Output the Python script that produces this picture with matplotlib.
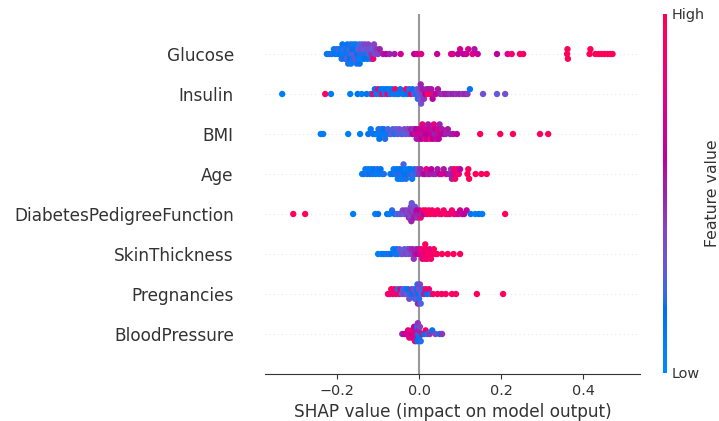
import numpy as np
import matplotlib
matplotlib.use("Agg")
import matplotlib.pyplot as plt
from matplotlib.colors import LinearSegmentedColormap

# ---------------- data: (SHAP value, normalised feature value) ----------------
features = ["Glucose", "Insulin", "BMI", "Age", "DiabetesPedigreeFunction",
            "SkinThickness", "Pregnancies", "BloodPressure"]

glucose = [
    (-0.225,0.15),(-0.219,0.1),(-0.213,0.2),(-0.208,0.1),(-0.204,0.15),(-0.201,0.2),(-0.198,0.1),(-0.196,0.25),
    (-0.193,0.15),(-0.191,0.1),(-0.189,0.2),(-0.187,0.15),(-0.185,0.1),(-0.183,0.25),(-0.181,0.15),(-0.179,0.2),
    (-0.178,0.1),(-0.176,0.3),(-0.175,0.15),(-0.173,0.2),(-0.172,0.1),(-0.17,0.25),(-0.169,0.15),(-0.167,0.2),
    (-0.166,0.1),(-0.164,0.3),(-0.163,0.15),(-0.161,0.2),(-0.16,0.1),(-0.158,0.25),(-0.157,0.15),(-0.155,0.35),
    (-0.154,0.1),(-0.152,0.2),(-0.151,0.15),(-0.149,0.3),(-0.148,0.1),(-0.146,0.25),(-0.145,0.15),(-0.143,0.2),
    (-0.142,0.35),(-0.14,0.1),(-0.139,0.25),(-0.137,0.2),(-0.136,0.3),(-0.134,0.15),(-0.132,0.4),(-0.13,0.2),
    (-0.128,0.3),(-0.126,0.15),(-0.124,0.4),(-0.122,0.25),(-0.12,0.35),(-0.118,0.2),(-0.116,0.45),(-0.114,0.3),
    (-0.112,0.85),(-0.11,0.4),(-0.107,0.35),(-0.104,0.45),(-0.1,0.4),(-0.096,0.5),
    (-0.088,0.55),(-0.08,0.6),(-0.072,0.5),(-0.06,0.55),(-0.045,0.7),(-0.012,0.6),(-0.005,0.7),(0.005,0.75),
    (0.044,0.65),(0.078,0.8),(0.082,0.7),(0.095,0.6),(0.1,0.7),(0.108,0.6),(0.115,0.65),(0.12,0.7),
    (0.13,0.75),(0.135,0.55),(0.143,0.65),(0.19,0.6),(0.216,0.75),(0.226,0.85),(0.246,0.9),(0.254,0.9),
    (0.361,0.97),(0.362,0.97),(0.363,0.97),(0.416,0.97),(0.418,0.97),(0.43,0.97),(0.438,0.97),(0.445,0.97),
    (0.452,0.97),(0.46,0.97),(0.466,0.97),(0.472,0.97)]

insulin = [
    (-0.334,0.1),(-0.229,0.95),(-0.215,0.1),(-0.168,0.1),(-0.15,0.15),(-0.14,0.1),(-0.128,0.15),(-0.118,0.2),
    (-0.112,0.9),(-0.108,0.15),(-0.104,0.1),(-0.1,0.85),(-0.096,0.2),(-0.093,0.15),(-0.09,0.9),(-0.087,0.1),
    (-0.084,0.2),(-0.08,0.15),(-0.077,0.85),(-0.074,0.1),(-0.07,0.2),(-0.066,0.15),(-0.062,0.1),(-0.058,0.95),
    (-0.055,0.2),(-0.05,0.1),(-0.046,0.15),(-0.04,0.2),(-0.036,0.1),(-0.032,0.9),(-0.028,0.15),(-0.024,0.2),
    (-0.02,0.85),(-0.016,0.15),(-0.012,0.25),(-0.008,0.2),(-0.005,0.3),(-0.003,0.2),(0.0,0.25),(0.001,0.4),
    (0.002,0.3),(0.004,0.5),(0.005,0.35),(0.006,0.4),(0.009,0.55),(0.012,0.45),(0.015,0.6),(0.018,0.5),
    (0.021,0.9),(0.024,0.55),(0.027,0.95),(0.03,0.55),(0.033,0.6),(0.037,0.5),(0.041,0.65),(0.046,0.55),
    (0.052,0.5),(0.058,0.45),(0.064,0.55),(0.07,0.5),(0.076,0.45),(0.083,0.5),(0.09,0.45),(0.098,0.5),
    (0.106,0.45),(0.113,0.5),(0.118,0.45),(0.124,0.15),(0.156,0.35),(0.19,0.3),(0.21,0.35)]

bmi = [
    (-0.24,0.1),(-0.234,0.1),(-0.173,0.1),(-0.144,0.1),(-0.124,0.15),(-0.118,0.1),(-0.112,0.2),(-0.107,0.15),
    (-0.102,0.1),(-0.099,0.2),(-0.097,0.15),(-0.095,0.1),(-0.092,0.2),(-0.089,0.1),(-0.086,0.15),(-0.083,0.2),
    (-0.08,0.1),(-0.076,0.25),(-0.072,0.2),(-0.068,0.3),(-0.064,0.25),(-0.06,0.2),(-0.056,0.3),(-0.052,0.25),
    (-0.048,0.35),(-0.044,0.3),(-0.04,0.25),(-0.036,0.35),(-0.032,0.3),(-0.028,0.4),(-0.024,0.35),(-0.02,0.5),
    (-0.016,0.6),(-0.013,0.45),(-0.01,0.55),(-0.008,0.6),(-0.006,0.5),(-0.004,0.7),(-0.002,0.6),(0.0,0.55),
    (0.002,0.7),(0.004,0.65),(0.006,0.6),(0.008,0.8),(0.01,0.55),(0.012,0.65),(0.014,0.75),(0.016,0.6),
    (0.018,0.7),(0.02,0.65),(0.022,0.55),(0.024,0.6),(0.026,0.7),(0.028,0.85),(0.03,0.65),(0.032,0.55),
    (0.034,0.6),(0.036,0.8),(0.038,0.5),(0.04,0.6),(0.042,0.7),(0.044,0.55),(0.046,0.75),(0.048,0.6),
    (0.05,0.5),(0.053,0.65),(0.056,0.55),(0.06,0.6),(0.065,0.5),(0.07,0.55),(0.076,0.5),(0.083,0.55),
    (0.092,0.6),(0.149,0.95),(0.198,0.95),(0.229,0.95),(0.295,0.95),(0.315,0.95)]

age = [
    (-0.139,0.1),(-0.135,0.15),(-0.131,0.1),(-0.127,0.2),(-0.124,0.1),(-0.12,0.15),(-0.117,0.1),(-0.113,0.2),
    (-0.11,0.15),(-0.106,0.1),(-0.102,0.2),(-0.098,0.1),(-0.094,0.15),(-0.09,0.1),(-0.086,0.2),
    (-0.07,0.1),(-0.065,0.15),(-0.062,0.1),(-0.058,0.2),(-0.055,0.15),(-0.052,0.1),(-0.05,0.2),(-0.048,0.15),
    (-0.046,0.1),(-0.044,0.2),(-0.042,0.15),(-0.04,0.1),(-0.038,0.25),(-0.036,0.15),(-0.034,0.1),(-0.032,0.2),
    (-0.029,0.15),(-0.026,0.1),(-0.023,0.2),(-0.02,0.15),(-0.017,0.1),(-0.014,0.25),(-0.011,0.15),(-0.008,0.2),
    (-0.004,0.4),(0.0,0.45),(0.004,0.5),(0.01,0.55),(0.014,0.6),(0.018,0.8),(0.022,0.5),(0.026,0.55),
    (0.03,0.6),(0.035,0.55),(0.04,0.5),(0.045,0.55),(0.05,0.6),(0.055,0.7),(0.06,0.55),(0.066,0.65),
    (0.072,0.55),(0.076,0.5),(0.078,0.45),(0.08,0.5),(0.082,0.55),(0.085,0.85),(0.088,0.9),(0.09,0.85),
    (0.093,0.9),(0.097,0.85),(0.1,0.6),(0.118,0.95),(0.12,0.95),(0.122,0.95),(0.138,0.95),(0.152,0.95),
    (0.165,0.95)]

dpf = [
    (-0.307,0.95),(-0.278,0.95),(-0.161,0.1),(-0.107,0.1),(-0.1,0.15),(-0.078,0.15),(-0.072,0.1),(-0.066,0.2),
    (-0.06,0.15),(-0.054,0.3),(-0.048,0.2),(-0.044,0.35),(-0.04,0.4),(-0.036,0.3),(-0.033,0.45),(-0.03,0.4),
    (-0.027,0.35),(-0.025,0.5),(-0.023,0.4),(-0.022,0.45),(-0.021,0.35),(-0.02,0.4),(-0.019,0.5),(-0.018,0.3),
    (-0.016,0.45),(-0.014,0.4),(-0.012,0.55),(-0.01,0.35),(-0.008,0.5),(-0.006,0.6),(-0.004,0.45),(-0.002,0.5),
    (0.001,0.6),(0.004,0.85),(0.007,0.5),(0.01,0.9),(0.013,0.6),(0.016,0.95),(0.02,0.9),(0.024,0.85),
    (0.028,0.95),(0.032,0.9),(0.036,0.95),(0.04,0.85),(0.045,0.9),(0.05,0.95),(0.055,0.85),(0.06,0.9),
    (0.065,0.95),(0.07,0.9),(0.075,0.85),(0.08,0.9),(0.085,0.8),(0.09,0.85),(0.096,0.7),(0.1,0.65),
    (0.105,0.7),(0.11,0.6),(0.116,0.65),(0.126,0.15),(0.137,0.1),(0.146,0.15),(0.154,0.1),(0.21,0.95)]

skin = [
    (-0.1,0.1),(-0.092,0.1),(-0.086,0.15),(-0.08,0.1),(-0.074,0.2),(-0.068,0.15),(-0.063,0.1),(-0.058,0.2),
    (-0.055,0.15),(-0.052,0.1),(-0.048,0.3),(-0.044,0.25),(-0.04,0.35),(-0.036,0.3),(-0.032,0.4),(-0.028,0.35),
    (-0.025,0.3),(-0.022,0.45),(-0.019,0.4),(-0.016,0.5),(-0.013,0.45),(-0.01,0.55),(-0.007,0.5),(-0.004,0.6),
    (-0.001,0.55),(0.002,0.7),(0.005,0.8),(0.008,0.75),(0.011,0.85),(0.013,0.9),(0.014,0.85),(0.015,0.95),
    (0.016,0.8),(0.017,0.9),(0.02,0.85),(0.023,0.95),(0.026,0.8),(0.029,0.9),(0.032,0.85),(0.036,0.95),
    (0.04,0.85),(0.044,0.95),(0.056,0.95),(0.07,0.95),(0.084,0.95),(0.1,0.95)]

pregnancies = [
    (-0.076,0.9),(-0.072,0.85),(-0.068,0.95),(-0.064,0.8),(-0.06,0.9),(-0.056,0.85),(-0.052,0.2),(-0.048,0.9),
    (-0.045,0.75),(-0.042,0.3),(-0.039,0.25),(-0.036,0.4),(-0.033,0.2),(-0.03,0.3),(-0.027,0.15),(-0.024,0.35),
    (-0.021,0.2),(-0.018,0.45),(-0.015,0.15),(-0.012,0.3),(-0.01,0.2),(-0.008,0.4),(-0.006,0.15),(-0.005,0.3),
    (-0.004,0.2),(-0.003,0.5),(-0.002,0.15),(-0.001,0.35),(0.0,0.2),(0.002,0.4),(0.004,0.25),(0.006,0.3),
    (0.009,0.2),(0.012,0.5),(0.016,0.9),(0.02,0.15),(0.024,0.85),(0.028,0.2),(0.034,0.9),(0.045,0.9),
    (0.055,0.95),(0.065,0.9),(0.08,0.95),(0.09,0.9),(0.141,0.95),(0.205,0.95)]

blood_pressure = [
    (-0.041,0.5),(-0.035,0.6),(-0.03,0.7),(-0.027,0.75),(-0.024,0.8),(-0.021,0.7),(-0.018,0.9),(-0.017,0.75),
    (-0.016,0.65),(-0.015,0.85),(-0.014,0.7),(-0.012,0.6),(-0.01,0.9),(-0.009,0.8),(-0.008,0.55),(-0.006,0.5),
    (-0.005,0.2),(-0.004,0.15),(-0.003,0.45),(-0.002,0.2),(-0.001,0.5),(0.0,0.15),(0.002,0.4),(0.004,0.2),
    (0.008,0.95),(0.012,0.15),(0.016,0.85),(0.02,0.2),(0.026,0.45),(0.032,0.15),(0.04,0.4),(0.05,0.15),
    (0.056,0.45)]

feature_data = [glucose, insulin, bmi, age, dpf, skin, pregnancies, blood_pressure]

# ---------------- SHAP red_blue colormap (LCH interpolation) ----------------
def lch2rgb(l, c, h):
    a, b = c * np.cos(h), c * np.sin(h)
    fy = (l + 16) / 116.0
    fx, fz = fy + a / 500.0, fy - b / 200.0
    def finv(t):
        return t ** 3 if t > 6 / 29 else 3 * (6 / 29) ** 2 * (t - 4 / 29)
    X, Y, Z = 0.95047 * finv(fx), finv(fy), 1.08883 * finv(fz)
    rgb = np.array([3.2406 * X - 1.5372 * Y - 0.4986 * Z,
                    -0.9689 * X + 1.8758 * Y + 0.0415 * Z,
                    0.0557 * X - 0.2040 * Y + 1.0570 * Z])
    rgb = np.where(rgb <= 0.0031308, 12.92 * rgb, 1.055 * np.abs(rgb) ** (1 / 2.4) - 0.055)
    return np.clip(rgb, 0, 1)

blue_lch = [54., 70., 4.6588]
red_lch = [54., 90., 0.35470565 + 2 * np.pi]
nsteps = 100
l_vals = list(np.linspace(blue_lch[0], 40., nsteps // 2)) + list(np.linspace(40., red_lch[0], nsteps // 2))
c_vals = np.linspace(blue_lch[1], red_lch[1], nsteps)
h_vals = np.linspace(blue_lch[2], red_lch[2], nsteps)
cols = [lch2rgb(l, c, h) for l, c, h in zip(l_vals, c_vals, h_vals)]
red_blue = LinearSegmentedColormap.from_list("red_blue", list(zip(np.linspace(0, 1, nsteps), cols)))

# ---------------- figure ----------------
W, H = 719, 421
fig = plt.figure(figsize=(W / 100, H / 100), dpi=100)
ax = fig.add_axes([265 / W, (H - 374) / H, (640 - 265) / W, (374 - 14) / H])

row_height = 0.4
bin_w = 0.007
n = len(features)
for i, (name, data) in enumerate(zip(features, feature_data)):
    pos = n - 1 - i
    ax.axhline(y=pos, color="#cccccc", lw=0.5, dashes=(1, 5), zorder=-1)
    xs = np.array([d[0] for d in data])
    cs = np.array([d[1] for d in data])
    quant = np.round((xs - xs.min()) / bin_w)
    inds = np.argsort(quant, kind="stable")
    ys = np.zeros(len(xs))
    layer, last_bin = 0, -1
    for ind in inds:
        if quant[ind] != last_bin:
            layer = 0
        ys[ind] = np.ceil(layer / 2) * ((layer % 2) * 2 - 1)
        layer += 1
        last_bin = quant[ind]
    ys *= 0.9 * (row_height / np.max(ys + 1))
    ax.scatter(xs, pos + ys, c=cs, cmap=red_blue, vmin=0, vmax=1, s=21,
               linewidth=0, alpha=1, zorder=3)

ax.axvline(x=0, color="#999999", zorder=-1, lw=1.5)
ax.set_xlim(-0.376, 0.539)
ax.set_ylim(-1, n)
ax.set_yticks(range(n))
ax.set_yticklabels(features[::-1], fontsize=12.2, color="#333333")
ax.yaxis.set_ticks_position("none")
ax.tick_params("y", length=19, pad=3.5)
ax.xaxis.set_ticks_position("bottom")
ax.set_xticks([-0.2, 0.0, 0.2, 0.4])
ax.set_xticklabels(["\u22120.2", "0.0", "0.2", "0.4"])
ax.tick_params("x", labelsize=10.4, color="#333333", labelcolor="#333333")
for s in ["right", "top", "left"]:
    ax.spines[s].set_visible(False)
ax.spines["bottom"].set_color("#333333")
ax.set_xlabel("SHAP value (impact on model output)", fontsize=12.2, color="#333333")

# colorbar
cax = fig.add_axes([662.5 / W, (H - 373) / H, 4.5 / W, (373 - 14) / H])
sm = plt.cm.ScalarMappable(cmap=red_blue, norm=plt.Normalize(0, 1))
cb = fig.colorbar(sm, cax=cax, ticks=[0, 1])
cb.set_ticklabels(["Low", "High"])
cb.ax.tick_params(labelsize=10.4, length=0, labelcolor="#333333")
cb.outline.set_visible(False)
cb.set_label("Feature value", size=11.3, labelpad=0, color="#333333")

fig.savefig("out.png", dpi=100)
